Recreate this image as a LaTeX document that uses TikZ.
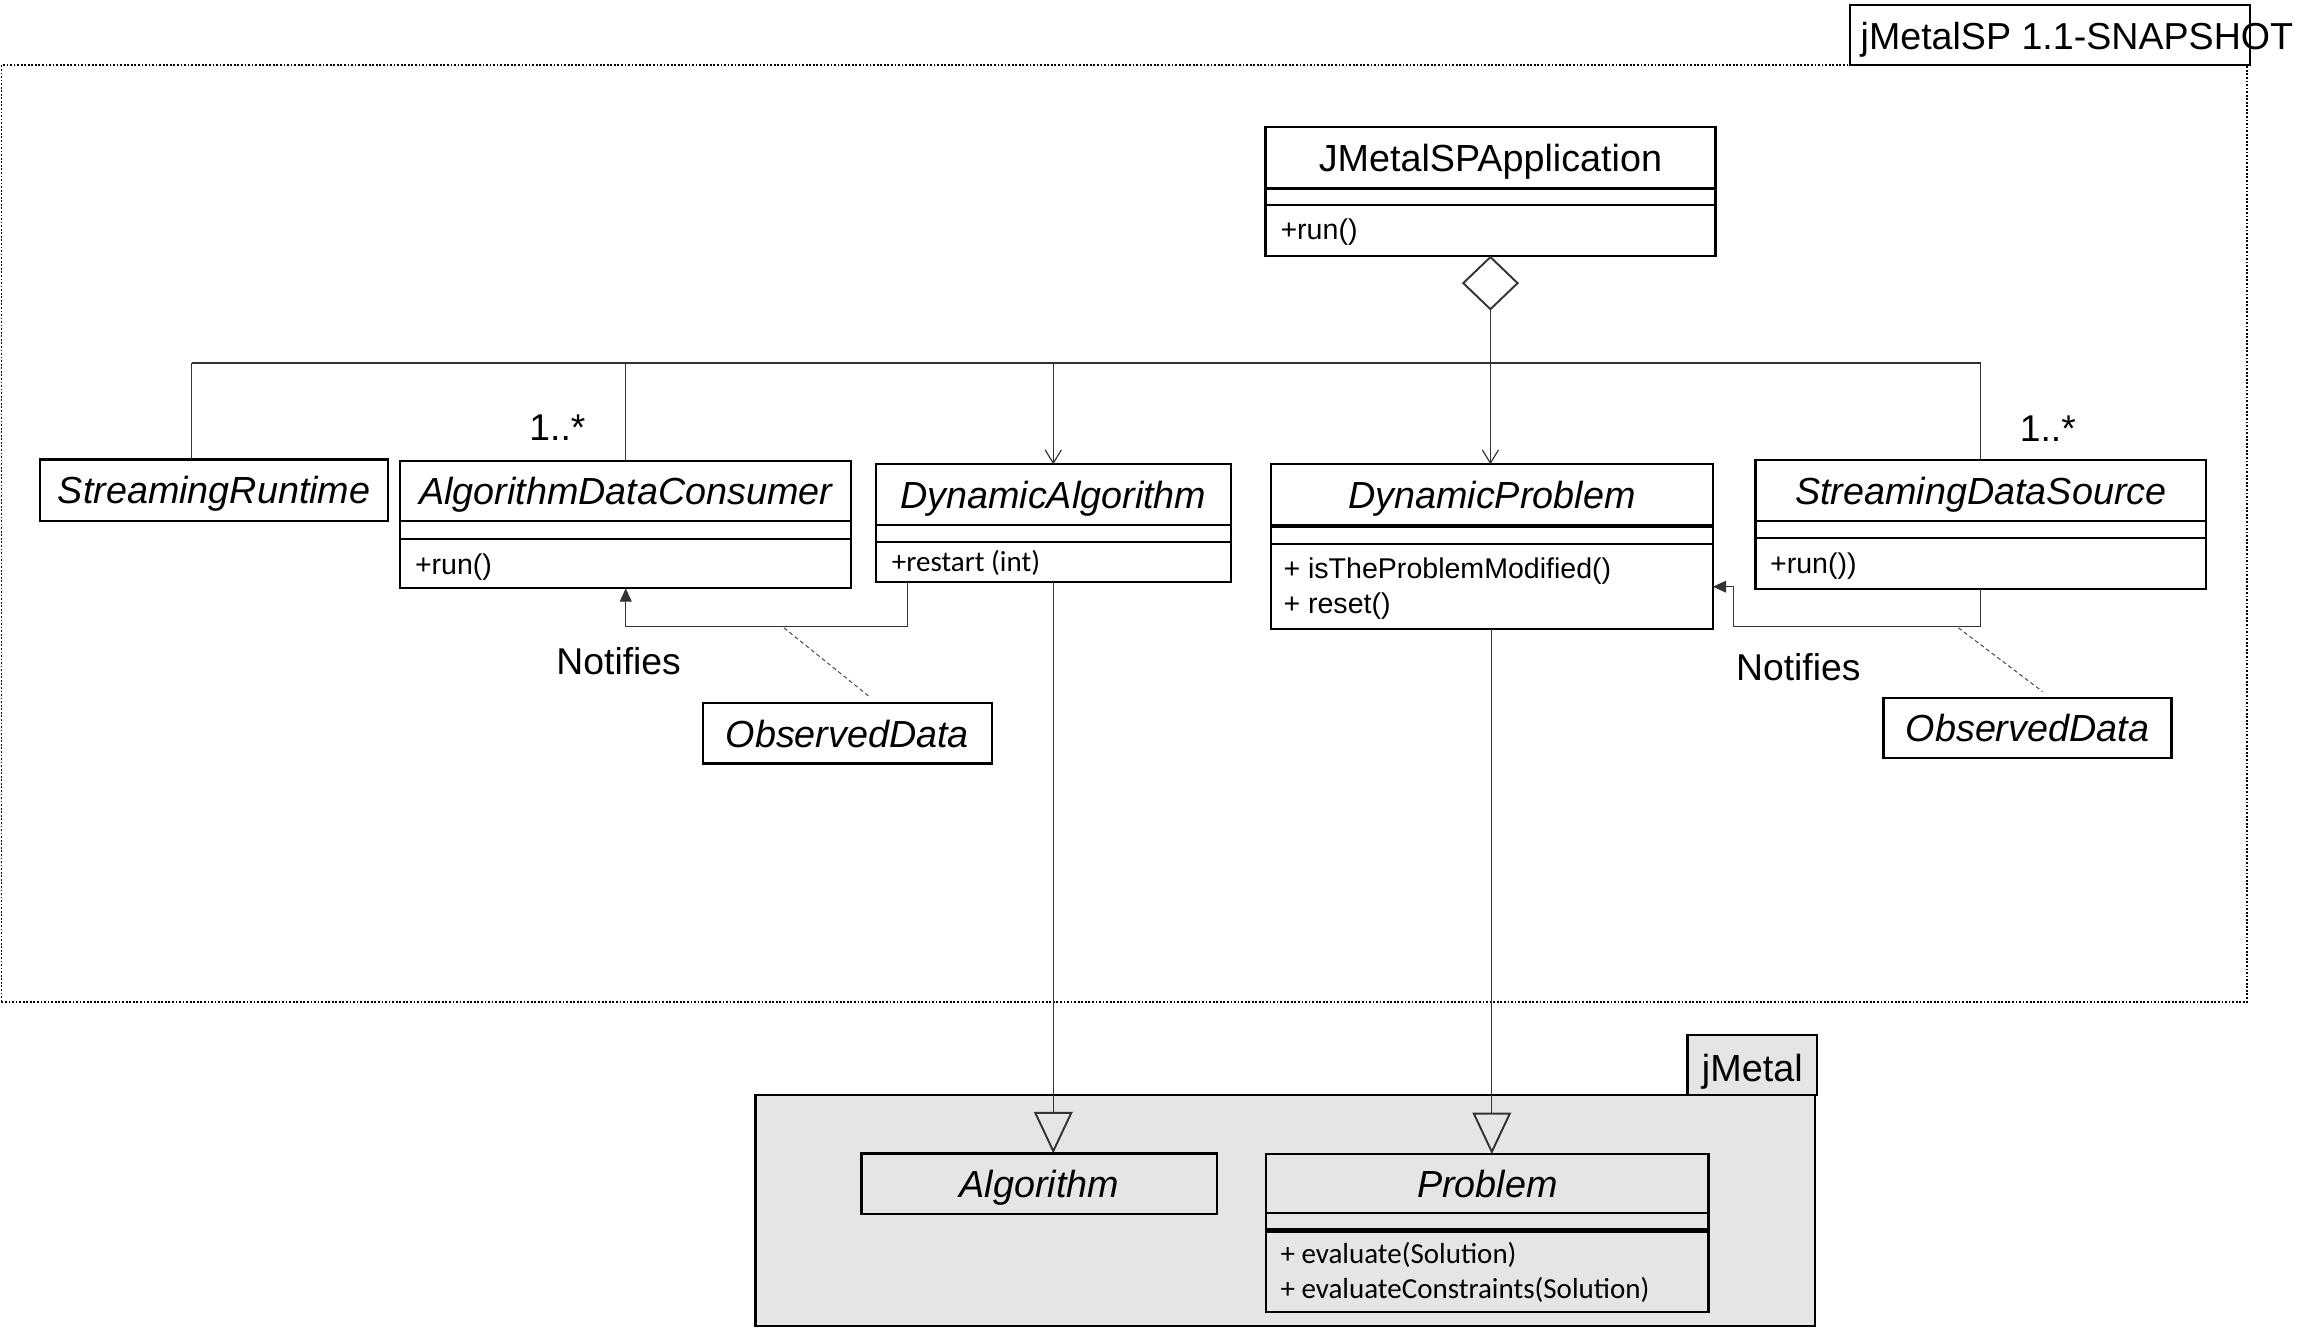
\documentclass[tikz,border=0pt]{standalone}
\usepackage{fontspec}
\setmainfont{Liberation Sans}
\newfontfamily\carlito{Carlito}
\usetikzlibrary{arrows.meta}
\begin{document}
\begin{tikzpicture}[x=1pt,y=-1pt,
  cls/.style={draw, line width=1.5pt, inner sep=0pt, outer sep=0pt, anchor=north west},
  cname/.style={cls, text height=24.5pt, text depth=6pt, font=\fontsize{25.5}{30}\selectfont\itshape},
  rname/.style={cls, text height=24.5pt, text depth=6pt, font=\fontsize{25.5}{30}\selectfont},
  mtxt/.style={anchor=base west, inner sep=0pt, font=\fontsize{19.3}{24}\selectfont},
  ctxt/.style={anchor=base west, inner sep=0pt, font=\carlito\fontsize{19.6}{23.6}\selectfont},
  conn/.style={draw=black!80, line width=0.8pt},
  dashline/.style={draw=black!70, line width=0.7pt, dash pattern=on 2.7pt off 2pt},
  outerbox/.style={draw, line width=1.2pt, dash pattern=on 1.2pt off 1.2pt, inner sep=0pt, outer sep=0pt, anchor=north west},
  lbl/.style={inner sep=0pt, font=\fontsize{25.2}{30}\selectfont},
  vtip/.style={-{Straight Barb[length=9pt,width=11pt]}},
  ftip/.style={-{Triangle[length=9pt,width=8pt]}},
  gtip/.style={-{Triangle[open,length=28pt,width=26pt,line width=1.3pt]}}
]
\useasboundingbox (0,0) rectangle (1568.2,897.3);

% outer package jMetalSP
\node[outerbox, minimum width=1517pt, minimum height=633pt] (sp) at (1,44) {};
\node[cls, fill=white, minimum width=270pt, minimum height=40.6pt] (titlebox) at (1250,3.4) {};
\node[anchor=base west, inner sep=0pt, font=\fontsize{25.4}{30}\selectfont] (title) at (1257,33.5) {jMetalSP 1.1-SNAPSHOT};

% jMetal package
\node[cls, fill=gray!20, minimum width=716pt, minimum height=156.1pt] (pkg) at (510.4,739.9) {};
\node[cls, fill=gray!20, minimum width=87.7pt, minimum height=40.6pt, text height=22.8pt, text depth=0pt, font=\fontsize{25.5}{30}\selectfont] (pkgtab) at (1140.1,699.3) {jMetal};

% JMetalSPApplication
\node[rname, minimum width=304pt, minimum height=41.7pt] (appN) at (855,85.6) {JMetalSPApplication};
\node[cls, minimum width=304pt, minimum height=11.2pt] (appE) at (855,127.3) {};
\node[cls, minimum width=304pt, minimum height=34.3pt] (appM) at (855,138.5) {};
\node[mtxt] (appT) at (865,162) {+run()};

% StreamingRuntime
\node[cname, minimum width=235pt, minimum height=41.6pt] (sr) at (27.2,310.4) {StreamingRuntime};

% AlgorithmDataConsumer
\node[cname, minimum width=304.8pt, minimum height=40.7pt] (adcN) at (270.4,311.3) {AlgorithmDataConsumer};
\node[cls, minimum width=304.8pt, minimum height=12.4pt] (adcE) at (270.4,352) {};
\node[cls, minimum width=304.8pt, minimum height=33.1pt] (adcM) at (270.4,364.4) {};
\node[mtxt] (adcT) at (280.2,388) {+run()};

% DynamicAlgorithm
\node[cname, minimum width=239.7pt, minimum height=41pt] (daN) at (591.8,313.7) {DynamicAlgorithm};
\node[cls, minimum width=239.7pt, minimum height=11.3pt] (daE) at (591.8,354.7) {};
\node[cls, minimum width=239.7pt, minimum height=27pt] (daM) at (591.8,366) {};
\node[ctxt] (daT) at (602.4,386.3) {+restart (int)};

% DynamicProblem
\node[cname, minimum width=298.7pt, minimum height=41.6pt] (dpN) at (858.6,313.7) {DynamicProblem};
\node[cls, minimum width=298.7pt, minimum height=12.3pt] (dpE) at (858.6,355.3) {};
\node[cls, minimum width=298.7pt, minimum height=57.6pt] (dpM) at (858.6,367.6) {};
\node[mtxt] (dpT1) at (867,390.8) {+ isTheProblemModified()};
\node[mtxt] (dpT2) at (867,414.4) {+ reset()};
\draw[line width=3pt] (dpN.south west) -- (dpN.south east);

% StreamingDataSource
\node[cname, minimum width=304.5pt, minimum height=41pt] (sdsN) at (1186.1,310.8) {StreamingDataSource};
\node[cls, minimum width=304.5pt, minimum height=11.5pt] (sdsE) at (1186.1,351.8) {};
\node[cls, minimum width=304.5pt, minimum height=34.4pt] (sdsM) at (1186.1,363.3) {};
\node[mtxt] (sdsT) at (1195.8,387.5) {+run())};

% ObservedData
\node[cname, minimum width=195.2pt, minimum height=40.6pt] (obsL) at (474.9,475.2) {ObservedData};
\node[cname, minimum width=194.5pt, minimum height=40.6pt] (obsR) at (1272.6,471.4) {ObservedData};

% Algorithm / Problem
\node[cname, minimum width=240.4pt, minimum height=41pt] (algo) at (582,779.3) {Algorithm};
\node[cname, minimum width=298.7pt, minimum height=40pt] (probN) at (855.6,779.8) {Problem};
\node[cls, minimum width=298.7pt, minimum height=11.7pt] (probE) at (855.6,819.8) {};
\node[cls, minimum width=298.7pt, minimum height=55.2pt] (probM) at (855.6,831.5) {};
\node[ctxt] (probT1) at (865,853.6) {+ evaluate(Solution)};
\node[ctxt] (probT2) at (865,877.2) {+ evaluateConstraints(Solution)};
\draw[line width=3pt] (probE.south west) -- (probE.south east);

% labels
\node[lbl, anchor=base west] (mulL) at (357.5,297.3) {1..*};
\node[lbl, anchor=base west] (mulR) at (1364.5,298.4) {1..*};
\node[lbl, anchor=base] (notL) at (418,455.5) {Notifies};
\node[lbl, anchor=base] (notR) at (1215,459.5) {Notifies};

% bus of the aggregation
\coordinate (busL) at (129.5,245.3);
\draw[conn] (busL) -- (busL -| sdsN.north);
\draw[conn] (busL) -- (busL |- sr.north);
\draw[conn] (busL -| adcN.north) -- (adcN.north);
\draw[conn, vtip] (busL -| daN.north) -- (daN.north);
\draw[conn] (busL -| sdsN.north) -- (sdsN.north);
\draw[conn, {Diamond[open,length=37pt,width=38.6pt,line width=1.3pt]}-{Straight Barb[length=9pt,width=11pt]}] (appM.south) -- (appM.south |- dpN.north);

% notifies
\coordinate (nl) at (613.3,423.4);
\draw[conn, ftip] (nl |- daM.south) -- (nl) -| (adcM.south);
\coordinate (nr) at (1171.2,423.4);
\draw[conn, ftip] (sdsM.south) |- (nr) |- (dpM.east);

% association classes
\coordinate (dl1) at (529.7,424.2);
\coordinate (dl2) at (587.4,470.7);
\draw[dashline] (dl1) -- (dl2);
\coordinate (dr1) at (1323.2,424.2);
\coordinate (dr2) at (1380.1,467.3);
\draw[dashline] (dr1) -- (dr2);

% generalizations
\draw[conn, gtip] (daM.south) -- (daM.south |- algo.north);
\draw[conn, gtip] (dpM.south) -- (dpM.south |- probN.north);
\end{tikzpicture}
\end{document}
